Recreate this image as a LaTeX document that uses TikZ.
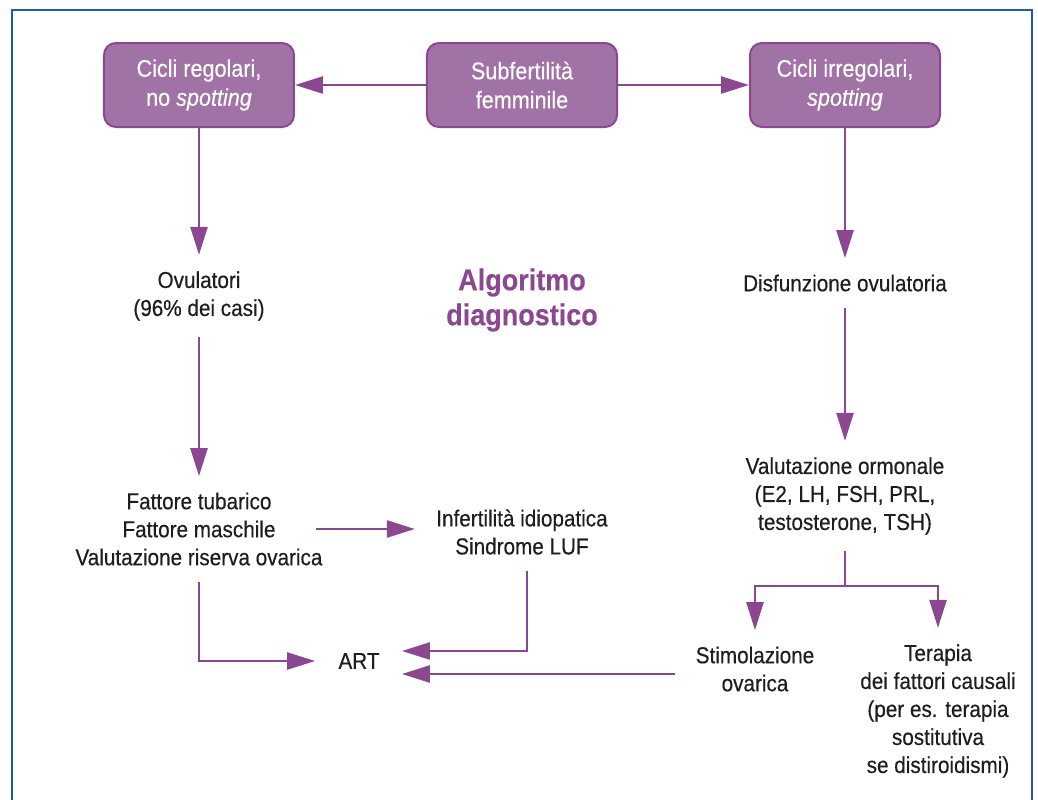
\documentclass[tikz,border=0pt]{standalone}
\usepackage{fontspec}
\setmainfont[FakeStretch=0.9, FakeBold=0.4]{Liberation Sans}
\usepackage{xcolor}
\usetikzlibrary{arrows.meta, positioning, calc}
\definecolor{boxfill}{RGB}{161,114,165}
\definecolor{lineviolet}{RGB}{139,72,145}
\definecolor{frameblue}{RGB}{30,92,160}
\definecolor{ink}{RGB}{30,30,30}

\begin{document}
\begin{tikzpicture}[node distance=2cm, on grid, >={Triangle[length=14pt, width=8.5pt]}]
    \tikzstyle{box} = [rectangle, draw=lineviolet, line width=1pt, fill=boxfill, text=white, minimum width=95pt, minimum height=42pt, rounded corners=6pt, align=center, font=\fontsize{12}{14.5}\selectfont]
    \tikzstyle{plain} = [align=center, inner xsep=4pt, inner ysep=8pt, text=ink, font=\fontsize{11.5}{14}\selectfont]
    \tikzstyle{title} = [align=center, text=lineviolet, font=\fontsize{15}{17.5}\selectfont\bfseries]
    \tikzstyle{link} = [->, line width=1.25pt, draw=lineviolet]

    \useasboundingbox (-261pt,42.5pt) rectangle (258pt,-357pt);
    \draw [frameblue, line width=1pt] (-255pt,-365pt) |- (255pt,37.5pt) -- (255pt,-365pt);

    \node [box] (sub) {Subfertilità\\femminile};
    \node [box, left=161.5pt of sub] (reg) {Cicli regolari,\\no \textit{spotting}};
    \node [box, right=161.5pt of sub] (irr) {Cicli irregolari,\\\textit{spotting}};

    \node [plain, below=105.5pt of reg] (ovul) {Ovulatori\\(96\% dei casi)};
    \node [title, below=107.5pt of sub] (alg) {Algoritmo\\diagnostico};
    \node [plain, below=99pt of irr] (disf) {Disfunzione ovulatoria};

    \node [plain, below=116.5pt of ovul] (fatt) {Fattore tubarico\\Fattore maschile\\Valutazione riserva ovarica};
    \node [plain, below=116pt of alg] (infe) {Infertilità idiopatica\\Sindrome LUF};
    \node [plain, below=106.5pt of disf] (valu) {Valutazione ormonale\\(E2, LH, FSH, PRL,\\testosterone, TSH)};

    \node [plain, below right=66pt and 80pt of fatt] (art) {ART};
    \node [plain, below left=86.5pt and 45pt of valu] (stim) {Stimolazione\\ovarica};
    \node [plain, below right=107.5pt and 46.5pt of valu] (tera) {Terapia\\dei fattori causali\\(per es. terapia\\sostitutiva\\se distiroidismi)};
    \coordinate [below=17.5pt of valu.south] (split);

    \draw [link] (sub) -- (reg);
    \draw [link] (sub) -- (irr);
    \draw [link] (reg) -- (ovul);
    \draw [link] (ovul) -- (fatt);
    \draw [link, shorten <=-7.5pt, shorten >=6.5pt] (fatt.east) -- (fatt.east -| infe.west);
    \draw [link, shorten >=7.5pt] (fatt.south) |- (art.west);
    \draw [link, shorten >=7pt] ([xshift=2.5pt]infe.south) |- ([yshift=5pt]art.east);
    \draw [link, shorten <=6pt, shorten >=7pt] ([yshift=-6.5pt]art.east -| stim.west) -- ([yshift=-6.5pt]art.east);
    \draw [link] (irr) -- (disf);
    \draw [link] (disf) -- (valu);
    \draw [link] (valu.south) -- (split) -| (stim.north);
    \draw [link] (split) -| (tera.north);
\end{tikzpicture}
\end{document}
